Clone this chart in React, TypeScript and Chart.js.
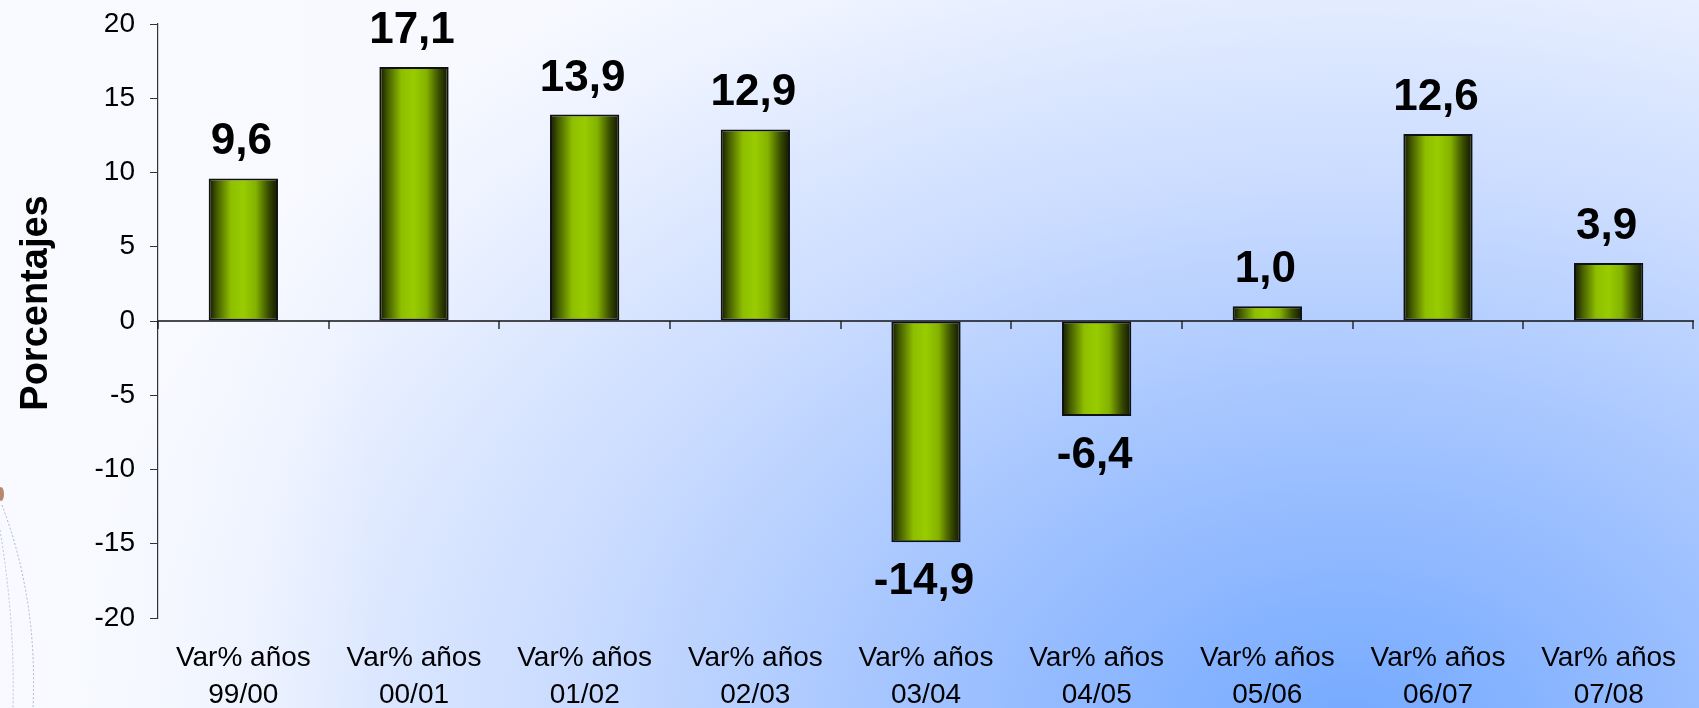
import React, { useEffect, useRef } from "react";
import { Chart, registerables } from "chart.js";

Chart.register(...registerables);

const categories = ["99/00", "00/01", "01/02", "02/03", "03/04", "04/05", "05/06", "06/07", "07/08"];
const labelPrefix = "Var% años";
const values = [9.6, 17.1, 13.9, 12.9, -14.9, -6.4, 1.0, 12.6, 3.9];
const yMin = -20;
const yMax = 20;
const yStep = 5;
const yTitle = "Porcentajes";

const FONT = "'Liberation Sans', Arial, Helvetica, sans-serif";
const BAR_FRACTION = 0.406;

const fmt = (v: number) => v.toFixed(1).replace(".", ",");

const zeroLinePlugin = {
  id: "zeroLine",
  beforeDatasetsDraw(chart: any) {
    const { ctx, chartArea } = chart;
    const y0 = chart.scales.y.getPixelForValue(0);
    const n = categories.length;
    const cw = (chartArea.right - chartArea.left) / n;
    ctx.save();
    ctx.strokeStyle = "#111";
    ctx.lineWidth = 1.5;
    ctx.beginPath();
    ctx.moveTo(chartArea.left, y0);
    ctx.lineTo(chartArea.right, y0);
    ctx.stroke();
    ctx.lineWidth = 1.3;
    for (let i = 0; i <= n; i++) {
      const x = Math.round(chartArea.left + i * cw) - (i === n ? 1 : 0);
      ctx.beginPath();
      ctx.moveTo(x, y0);
      ctx.lineTo(x, y0 + 8);
      ctx.stroke();
    }
    ctx.restore();
  },
};

const valueLabelPlugin = {
  id: "valueLabels",
  afterDatasetsDraw(chart: any) {
    const { ctx } = chart;
    const meta = chart.getDatasetMeta(0);
    ctx.save();
    ctx.font = `bold 44px ${FONT}`;
    ctx.fillStyle = "#000";
    ctx.textAlign = "center";
    ctx.textBaseline = "alphabetic";
    meta.data.forEach((bar: any, i: number) => {
      const v = values[i];
      const y = v >= 0 ? bar.y - 24 : bar.y + 52;
      ctx.fillText(fmt(v), bar.x - 2, y);
    });
    ctx.restore();
  },
};

const yTitlePlugin = {
  id: "yTitle",
  afterDraw(chart: any) {
    const { ctx } = chart;
    ctx.save();
    ctx.translate(37, 303);
    ctx.rotate(-Math.PI / 2);
    ctx.font = `bold 38px ${FONT}`;
    ctx.fillStyle = "#000";
    ctx.textAlign = "center";
    ctx.textBaseline = "middle";
    ctx.fillText(yTitle, 0, 0);
    ctx.restore();
  },
};

export default function App() {
  const canvasRef = useRef<HTMLCanvasElement | null>(null);

  useEffect(() => {
    const canvas = canvasRef.current;
    if (!canvas) return;
    const chart = new Chart(canvas, {
      type: "bar",
      data: {
        labels: categories.map((c) => [labelPrefix, c]),
        datasets: [
          {
            data: values,
            barPercentage: BAR_FRACTION,
            categoryPercentage: 1,
            borderColor: "#111",
            borderWidth: 2,
            borderSkipped: false,
            backgroundColor: (c: any) => {
              const ch = c.chart;
              const area = ch.chartArea;
              if (!area || c.dataIndex === undefined) return "#99cc00";
              const cx = ch.scales.x.getPixelForValue(c.dataIndex);
              const w = ((area.right - area.left) / categories.length) * BAR_FRACTION;
              const g = ch.ctx.createLinearGradient(cx - w / 2, 0, cx + w / 2, 0);
              g.addColorStop(0, "#101600");
              g.addColorStop(0.12, "#455c00");
              g.addColorStop(0.32, "#8ebf00");
              g.addColorStop(0.5, "#99cc00");
              g.addColorStop(0.68, "#84b200");
              g.addColorStop(0.86, "#3a4d00");
              g.addColorStop(1, "#0e1400");
              return g;
            },
          } as any,
        ],
      },
      options: {
        animation: false,
        responsive: false,
        devicePixelRatio: 1,
        layout: { padding: { top: 24, right: 5, left: 0, bottom: 0 } },
        plugins: {
          legend: { display: false },
          tooltip: { enabled: false },
          title: { display: false },
        },
        scales: {
          x: {
            grid: { display: false, drawTicks: false },
            border: { display: false },
            ticks: {
              color: "#000",
              font: { family: FONT, size: 28, lineHeight: 1.31 },
              maxRotation: 0,
              autoSkip: false,
              padding: 22,
            },
            afterFit: (s: any) => {
              s.height = 90;
            },
          },
          y: {
            min: yMin,
            max: yMax,
            ticks: {
              stepSize: yStep,
              color: "#000",
              font: { family: FONT, size: 28 },
              padding: 15,
              callback: (v: any) => String(v),
            },
            grid: {
              display: true,
              drawOnChartArea: false,
              drawTicks: true,
              tickLength: 8,
              color: "#333",
              lineWidth: 1,
            },
            border: { display: true, color: "#333", width: 1.2 },
            afterFit: (s: any) => {
              s.width = 158;
              s.paddingTop = 0;
              s.paddingBottom = 0;
            },
          },
        },
      },
      plugins: [zeroLinePlugin, valueLabelPlugin, yTitlePlugin],
    });
    return () => chart.destroy();
  }, []);

  return (
    <div
      style={{
        position: "fixed",
        left: 0,
        top: 0,
        width: 1699,
        height: 708,
        overflow: "hidden",
        background:
          "linear-gradient(to right, rgba(248,250,255,0.85) 0%, rgba(248,250,255,0.55) 10%, rgba(248,250,255,0) 22%), radial-gradient(ellipse 1300px 900px at 1350px 730px, #74a9ff 0%, #9dc0ff 30%, #c9dbff 60%, #eef3ff 90%, #f7f9ff 100%)",
      }}
    >
      <svg
        width={120}
        height={708}
        style={{ position: "absolute", left: 0, top: 0 }}
      >
        <path d="M 2 505 Q 38 600 33 708" fill="none" stroke="#a9b7ca" strokeWidth={1} strokeDasharray="2 2" />
        <path d="M 0 530 Q 15 620 13 708" fill="none" stroke="#b9c4d4" strokeWidth={1} strokeDasharray="2 2" />
        <ellipse cx={1} cy={494} rx={3} ry={7} fill="#a86a4a" opacity={0.8} />
      </svg>
      <canvas
        ref={canvasRef}
        width={1699}
        height={708}
        style={{ position: "absolute", left: 0, top: 0, width: 1699, height: 708 }}
      />
    </div>
  );
}
